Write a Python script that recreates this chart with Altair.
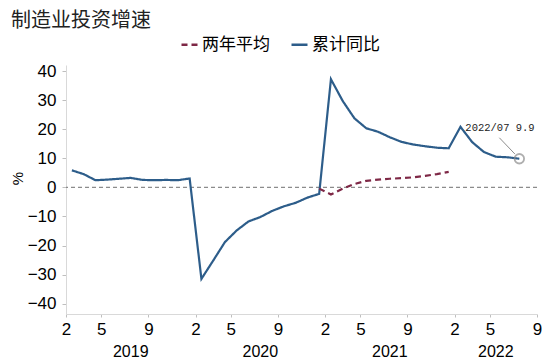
import json
import altair as alt
import pandas as pd

# ---------------- data ----------------
TITLE = "制造业投资增速"
SERIES = ["两年平均", "累计同比"]
YEARS = [2019, 2020, 2021, 2022]
MONTHS = [2, 3, 4, 5, 6, 7, 8, 9, 10, 11, 12]
AXIS_END = (2022, 9)
TICK_MONTHS = [2, 5, 9]

cum_2019 = [5.9, 4.6, 2.5, 2.7, 3.0, 3.3, 2.6, 2.5, 2.6, 2.5, 3.1]
cum_2020 = [-31.5, -25.2, -18.8, -14.8, -11.7, -10.2, -8.1, -6.5, -5.3, -3.5, -2.2]
cum_2021 = [37.3, 29.8, 23.8, 20.4, 19.2, 17.3, 15.7, 14.8, 14.2, 13.7, 13.5]
cum_2022 = [20.9, 15.6, 12.2, 10.6, 10.4, 9.9]

two_year_start = (2020, 12)
two_year = [-0.4, -2.4, -0.4, 1.2, 2.3, 2.7, 3.0, 3.2, 3.5, 4.0, 4.6, 5.4]

Y_TICKS = [-40, -30, -20, -10, 0, 10, 20, 30, 40]
Y_DOMAIN = [-43.6, 42.2]
REF_ZERO = [0]

BLUE = "#2D5D8A"
RED = "#7E2846"
GRAY = "#8c8c8c"

# ---------------- build tables ----------------
cats = [(y, m) for y in YEARS for m in MONTHS if (y, m) <= AXIS_END]
idx = {c: i for i, c in enumerate(cats)}
n_bound = len(cats) - 1

rows = []
for y, vals in zip(YEARS, [cum_2019, cum_2020, cum_2021, cum_2022]):
    for m, v in zip(MONTHS, vals):
        rows.append({"series": SERIES[1], "pos": idx[(y, m)] + 0.5, "value": v,
                     "label": f"{y}/{m:02d} {v}"})
start = idx[two_year_start]
for k, v in enumerate(two_year):
    y, m = cats[start + k]
    rows.append({"series": SERIES[0], "pos": start + k + 0.5, "value": v,
                 "label": f"{y}/{m:02d} {v}"})
df = pd.DataFrame(rows)
last = df[df.series == SERIES[1]].iloc[[-1]]
zdf = pd.DataFrame({"value": REF_ZERO})

tick_vals = [i for i, (y, m) in enumerate(cats) if m in TICK_MONTHS]
label_arr = [str(m) for (y, m) in cats]
label_expr = json.dumps(label_arr) + "[datum.value]"

year_rows = []
for y in YEARS:
    ys = [i for i, c in enumerate(cats) if c[0] == y]
    lo = ys[0]
    hi = min(ys[-1] + 1, n_bound)
    year_rows.append({"year": str(y), "pos": (lo + hi) / 2})
ydf = pd.DataFrame(year_rows)

# ---------------- chart ----------------
W, H = 471, 249
xscale = alt.Scale(domain=[0, n_bound], nice=False, zero=False)
yscale = alt.Scale(domain=Y_DOMAIN, nice=False, zero=False)

x_axis = alt.Axis(values=tick_vals, labelExpr=label_expr, title=None, grid=False,
                  domainColor="#d9d9d9", tickColor="#bfbfbf", tickSize=3,
                  labelFont="Liberation Sans", labelFontSize=17, labelColor="#000",
                  labelPadding=4, labelFlush=False, labelOverlap=False, labelBound=False)
y_axis = alt.Axis(values=Y_TICKS, title="%", grid=False,
                  domainColor="#d9d9d9", tickColor="#bfbfbf", tickSize=4,
                  labelFont="Liberation Sans", labelFontSize=17, labelColor="#000",
                  labelPadding=6, labelFlush=False, labelOverlap=False,
                  titleFont="Liberation Sans", titleFontSize=15, titleFontWeight="normal",
                  titleColor="#000", titleAngle=-90, titleX=-49, titleY=113,
                  titleAlign="center", titleBaseline="middle")

X = alt.X("pos:Q", scale=xscale, axis=x_axis)
Y = alt.Y("value:Q", scale=yscale, axis=y_axis)

legend = alt.Legend(title=None, orient="none", legendX=114, legendY=-30,
                    direction="horizontal", symbolType="stroke", symbolSize=256,
                    symbolStrokeWidth=2.5, labelFont="Noto Sans CJK SC",
                    labelFontSize=17, labelColor="#000", labelOffset=3,
                    columnPadding=16, padding=0)

zero = alt.Chart(zdf).mark_rule(color=GRAY, strokeWidth=1.2, strokeDash=[4, 3]).encode(y=Y)

lines = alt.Chart(df).mark_line(strokeWidth=2.2).encode(
    x=X, y=Y,
    color=alt.Color("series:N", scale=alt.Scale(domain=SERIES, range=[RED, BLUE]), legend=legend),
    strokeDash=alt.StrokeDash("series:N", scale=alt.Scale(domain=SERIES, range=[[6, 4], [1, 0]]), legend=legend),
    detail="series:N",
)

circle = alt.Chart(last).mark_point(shape="circle", size=90, filled=False,
                                    stroke=GRAY, strokeWidth=1.8).encode(x=X, y=Y)

leader = alt.Chart(last).mark_rule(color=GRAY, strokeWidth=1,
                                   xOffset=-20, yOffset=-21, x2Offset=-4.5, y2Offset=-4.8).encode(
    x=X, y=Y, x2="pos:Q", y2="value:Q")

note = alt.Chart(last).mark_text(align="left", baseline="middle", dx=-54, dy=-31,
                                 font="Liberation Mono", fontSize=10.5, color="#222").encode(
    x=X, y=Y, text="label:N")

years = alt.Chart(ydf).mark_text(align="center", baseline="middle",
                                 font="Liberation Sans", fontSize=16, color="#000").encode(
    x=X, y=alt.value(H + 38), text="year:N")

chart = alt.layer(zero, lines, circle, leader, note, years).properties(
    width=W, height=H,
    title=alt.TitleParams(TITLE, anchor="start", frame="group", dx=-55,
                          font="Noto Sans CJK SC", fontSize=20, fontWeight="normal",
                          color="#222", offset=4),
    autosize=alt.AutoSizeParams(type="none"),
    padding={"left": 58, "top": 57, "right": 5, "bottom": 45},
).configure_view(stroke=None).configure_axisY(labelOverlap=False)

chart.save("out.html", embed_options={"renderer": "svg", "actions": False})
